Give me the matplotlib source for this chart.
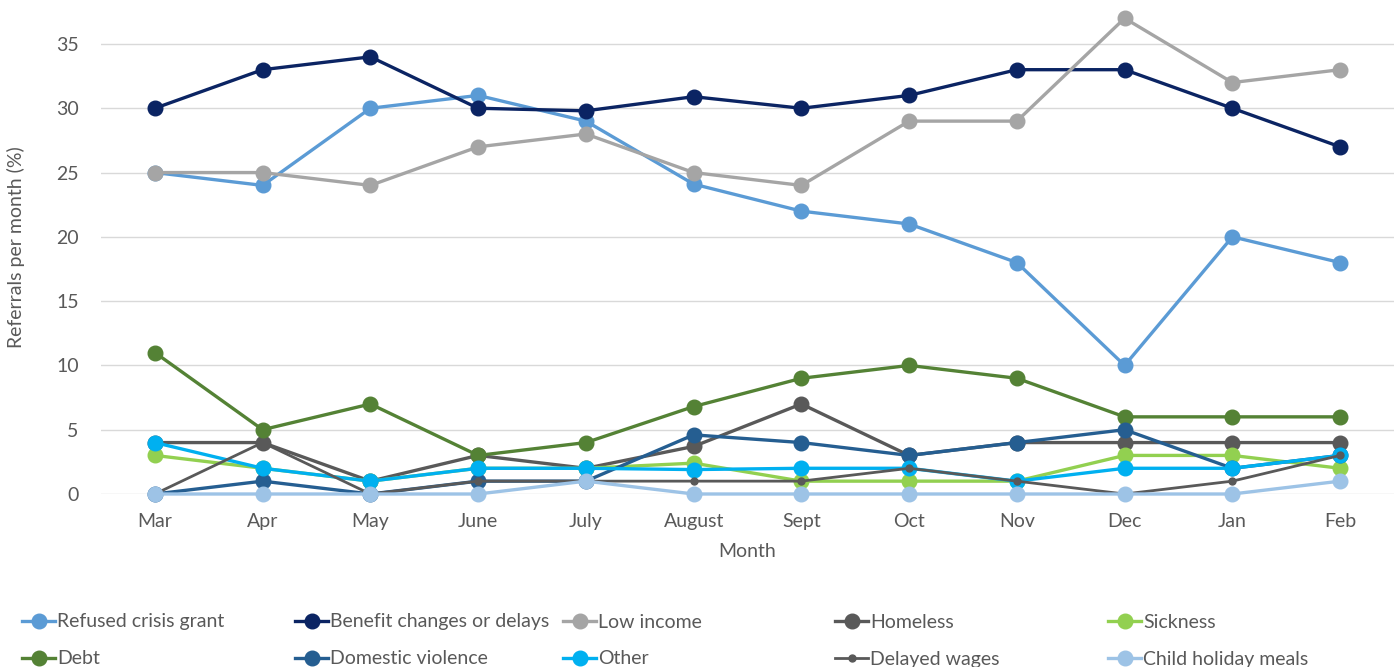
import matplotlib
matplotlib.use("Agg")
import matplotlib.pyplot as plt

months = ["Mar", "Apr", "May", "June", "July", "August", "Sept", "Oct", "Nov", "Dec", "Jan", "Feb"]

refused_crisis_grant = [25, 24, 30, 31, 29, 24.1, 22, 21, 18, 10, 20, 18]
benefit_changes = [30, 33, 34, 30, 29.8, 30.9, 30, 31, 33, 33, 30, 27]
low_income = [25, 25, 24, 27, 28, 25, 24, 29, 29, 37, 32, 33]
homeless = [4, 4, 1, 3, 2, 3.7, 7, 3, 4, 4, 4, 4]
sickness = [3, 2, 1, 2, 2, 2.4, 1, 1, 1, 3, 3, 2]
debt = [11, 5, 7, 3, 4, 6.8, 9, 10, 9, 6, 6, 6]
domestic_violence = [0, 1, 0, 1, 1, 4.6, 4, 3, 4, 5, 2, 3]
other = [4, 2, 1, 2, 2, 1.9, 2, 2, 1, 2, 2, 3]
delayed_wages = [0, 4, 0, 1, 1, 1, 1, 2, 1, 0, 1, 3]
child_holiday_meals = [0, 0, 0, 0, 1, 0, 0, 0, 0, 0, 0, 1]

series = [
    ("Refused crisis grant", refused_crisis_grant, "#5B9BD5", "big"),
    ("Benefit changes or delays", benefit_changes, "#0B2463", "big"),
    ("Low income", low_income, "#A5A5A5", "big"),
    ("Homeless", homeless, "#595959", "big"),
    ("Sickness", sickness, "#92D050", "big"),
    ("Debt", debt, "#548235", "big"),
    ("Domestic violence", domestic_violence, "#255E91", "big"),
    ("Other", other, "#00B0F0", "big"),
    ("Delayed wages", delayed_wages, "#595959", "small"),
    ("Child holiday meals", child_holiday_meals, "#9DC3E6", "big"),
]

plt.rcParams['font.family'] = ['Lato', 'DejaVu Sans']
text_color = "#595959"
fs = 14

fig = plt.figure(figsize=(13.98, 6.67), dpi=100)
ax = fig.add_axes([101 / 1398, 1 - 494 / 667, (1394 - 101) / 1398, 494 / 667])

x = list(range(len(months)))
handles = []
for i, (name, vals, color, size) in enumerate(series):
    if size == "big":
        h, = ax.plot(x, vals, color=color, lw=2.4, marker="o", markersize=10.5,
                     label=name, zorder=3 + i, clip_on=False)
    else:
        h, = ax.plot(x, vals, color=color, lw=2.0, marker="o", markersize=5,
                     label=name, zorder=3 + i, clip_on=False)
    handles.append(h)

ax.set_xlim(-0.5, len(months) - 0.5)
ax.set_ylim(0, 38.42)
ax.set_yticks([0, 5, 10, 15, 20, 25, 30, 35])
ax.set_xticks(x)
ax.set_xticklabels(months)
ax.grid(axis="y", color="#D9D9D9", lw=1)
ax.set_axisbelow(True)
for s in ax.spines.values():
    s.set_visible(False)
ax.tick_params(axis="both", length=0, labelsize=fs, colors=text_color)
ax.tick_params(axis="y", pad=16)
ax.tick_params(axis="x", pad=14)
ax.set_xlabel("Month", fontsize=fs, color=text_color, labelpad=9)
ax.set_ylabel("Referrals per month (%)", fontsize=fs, color=text_color, labelpad=22)

col_x = [22, 295, 563, 835, 1108]
row_y = [622, 659]
for i, h in enumerate(handles):
    r, c = divmod(i, 5)
    fig.legend([h], [h.get_label()], loc="center left",
               bbox_to_anchor=(col_x[c] / 1398, 1 - row_y[r] / 667),
               frameon=False, fontsize=fs, labelcolor=text_color,
               handlelength=1.7, handletextpad=0.12, borderpad=0, borderaxespad=0)

fig.savefig("out.png", dpi=100)
